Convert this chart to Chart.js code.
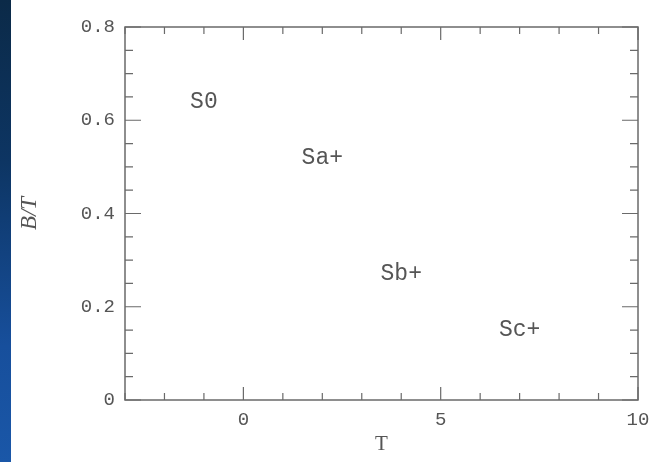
<!DOCTYPE html>
<html>
<head>
<meta charset="utf-8">
<script src="https://cdn.jsdelivr.net/npm/chart.js@4/dist/chart.umd.min.js"></script>
<style>
  html, body { margin: 0; padding: 0; background: #fff; }
  #wrap { position: relative; width: 658px; height: 462px; }
  #strip { position: absolute; left: 0; top: 0; width: 11px; height: 462px;
    background: linear-gradient(180deg, #0b2a48 0%, #0d3563 35%, #174f9c 75%, #1a57a8 100%); }
  #chart { position: absolute; left: 0; top: 0; }
</style>
</head>
<body>
<div id="wrap">
  <div id="strip"></div>
  <canvas id="chart" width="658" height="462"></canvas>
</div>
<script>
// Hubble types and their bulge/total ratio
const typeNames = ['S0', 'Sa+', 'Sb+', 'Sc+'];
const typeT = [-1, 2, 4, 7];
const bulgeToTotal = [0.64, 0.52, 0.27, 0.15];

// axis ticks
const xTickValues = [0, 5, 10];
const yTickValues = [0, 0.2, 0.4, 0.6, 0.8];
const xMinorStep = 1;
const yMinorStep = 0.05;

const inkColor = '#6a6a6a';
const textColor = '#555';
const monoFont = "'Liberation Mono', 'DejaVu Sans Mono', monospace";

// frame + inward ticks on all four sides
const frameTicks = {
  id: 'frameTicks',
  afterDatasetsDraw(chart) {
    const {ctx, chartArea: a, scales: {x, y}} = chart;
    ctx.save();
    ctx.strokeStyle = inkColor;
    ctx.lineWidth = 1.5;
    ctx.strokeRect(a.left, a.top, a.right - a.left, a.bottom - a.top);
    ctx.lineWidth = 1.2;
    ctx.beginPath();
    for (let v = x.min; v <= x.max + 1e-9; v += xMinorStep) {
      const px = x.getPixelForValue(v);
      const len = xTickValues.includes(Math.round(v)) ? 13 : 7;
      ctx.moveTo(px, a.bottom); ctx.lineTo(px, a.bottom - len);
      ctx.moveTo(px, a.top); ctx.lineTo(px, a.top + len);
    }
    for (let i = 0; i * yMinorStep <= y.max + 1e-9; i++) {
      const v = i * yMinorStep;
      const py = y.getPixelForValue(v);
      const len = i % 4 === 0 ? 16 : 8;
      ctx.moveTo(a.left, py); ctx.lineTo(a.left + len, py);
      ctx.moveTo(a.right, py); ctx.lineTo(a.right - len, py);
    }
    ctx.stroke();
    ctx.restore();
  }
};

// the type names are the marks
const typeLabels = {
  id: 'typeLabels',
  afterDatasetsDraw(chart) {
    const ctx = chart.ctx;
    const meta = chart.getDatasetMeta(0);
    ctx.save();
    ctx.fillStyle = textColor;
    ctx.font = '23px ' + monoFont;
    ctx.textAlign = 'center';
    ctx.textBaseline = 'middle';
    meta.data.forEach((pt, i) => {
      ctx.fillText(typeNames[i], pt.x, pt.y);
    });
    ctx.restore();
  }
};

new Chart(document.getElementById('chart'), {
  type: 'scatter',
  data: {
    datasets: [{
      data: typeT.map((t, i) => ({x: t, y: bulgeToTotal[i]})),
      pointRadius: 0,
      pointHoverRadius: 0
    }]
  },
  options: {
    responsive: false,
    animation: false,
    events: [],
    layout: {padding: {left: 0, right: 20, top: 27, bottom: 0}},
    plugins: {legend: {display: false}, tooltip: {enabled: false}},
    scales: {
      x: {
        type: 'linear',
        min: -3, max: 10,
        grid: {display: false},
        border: {display: false},
        afterBuildTicks: s => { s.ticks = xTickValues.map(v => ({value: v})); },
        afterFit: s => { s.height = 62; },
        ticks: {color: textColor, font: {family: monoFont, size: 19}, padding: 1, maxRotation: 0},
        title: {display: true, text: 'T', color: textColor,
          font: {family: "'Liberation Serif', serif", size: 21}, padding: {top: 0, bottom: 5}}
      },
      y: {
        type: 'linear',
        min: 0, max: 0.8,
        grid: {display: false},
        border: {display: false},
        afterBuildTicks: s => { s.ticks = yTickValues.map(v => ({value: v})); },
        afterFit: s => { s.width = 125; },
        ticks: {color: textColor, font: {family: monoFont, size: 19}, padding: 2},
        title: {display: true, text: 'B/T', color: textColor,
          font: {family: "'Liberation Serif', serif", size: 23, style: 'italic'}, padding: {top: 16, bottom: 0}}
      }
    }
  },
  plugins: [frameTicks, typeLabels]
});
</script>
</body>
</html>
